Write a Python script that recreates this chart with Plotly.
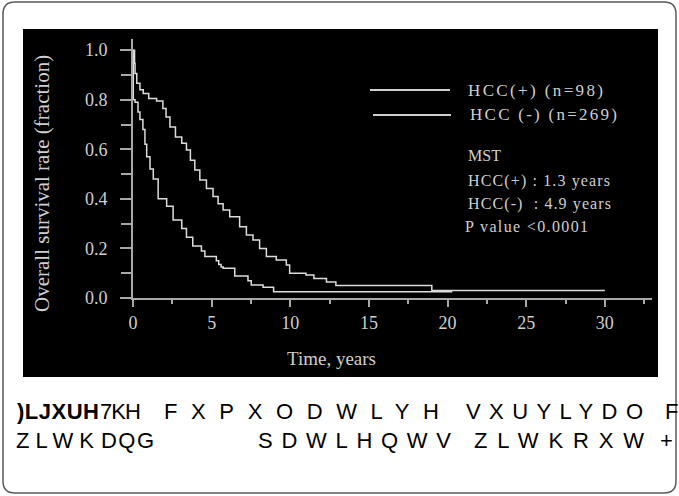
import json
import plotly.graph_objects as go

# ---------------- data ----------------
hcc_neg_t = [0.0, 0.1, 0.13, 0.24, 0.44, 0.65, 1.0, 1.5, 1.9, 2.1, 2.35, 2.7, 3.1, 3.4, 3.65, 3.93,
             4.25, 4.67, 5.09, 5.41, 5.73, 6.15, 6.78, 7.21, 7.63, 8.05, 8.48, 9.11, 9.75, 9.96,
             11.0, 11.5, 12.3, 12.9, 19.0, 30.0]
hcc_neg_s = [1.0, 0.946, 0.906, 0.866, 0.84, 0.825, 0.805, 0.795, 0.765, 0.73, 0.69, 0.65, 0.624,
             0.597, 0.556, 0.516, 0.476, 0.442, 0.41, 0.38, 0.355, 0.328, 0.287, 0.254, 0.234,
             0.2, 0.167, 0.153, 0.133, 0.1, 0.093, 0.079, 0.065, 0.05, 0.03, 0.03]

hcc_pos_t = [0.0, 0.02, 0.13, 0.32, 0.44, 0.63, 0.76, 0.87, 1.08, 1.29, 1.6, 2.14, 2.55, 3.1,
             3.4, 3.8, 4.35, 4.57, 5.3, 5.45, 5.6, 5.73, 6.47, 7.31, 7.52, 8.27, 8.94, 20.3]
hcc_pos_s = [1.0, 0.80, 0.79, 0.75, 0.72, 0.68, 0.62, 0.57, 0.52, 0.48, 0.40, 0.37, 0.315, 0.28,
             0.245, 0.21, 0.19, 0.167, 0.15, 0.135, 0.125, 0.12, 0.089, 0.07, 0.052, 0.043,
             0.025, 0.025]

x_tick_vals = [0, 5, 10, 15, 20, 25, 30]
y_tick_vals = [0.0, 0.2, 0.4, 0.6, 0.8, 1.0]

x_title = "Time, years"
y_title = "Overall survival rate (fraction)"
legend_labels = ["HCC(+) (n=98)", "HCC (-) (n=269)"]
mst_lines = ["MST", "HCC(+) : 1.3 years", "HCC(-)  : 4.9 years", "P value <0.0001"]
caption_line1 = [")LJXUH", "7KH", "FXPXODWLYH", "VXUYLYDO", "F"]
caption_line2 = ["ZLWK", "DQG", "SDWLHQWV", "ZLWKRXW", "+"]

# ---------------- layout helpers ----------------
W, H = 679, 496
L, R, T, B = 133, 27, 39, 198
PW, PH = W - L - R, H - T - B


def px(x):
    return (x - L) / PW


def py(y):
    return (H - B - y) / PH


GREY_AX = "#a8a8a8"
GREY_TX = "#cfcfcf"
CURVE = "#dcdcdc"
SERIF = "Liberation Serif, Times New Roman, serif"
SANS = "Liberation Sans, Arial, sans-serif"

fig = go.Figure()
fig.add_trace(go.Scatter(x=hcc_neg_t, y=hcc_neg_s, mode="lines", line_shape="hv",
                         line=dict(color=CURVE, width=1.5), name=legend_labels[1],
                         showlegend=False))
fig.add_trace(go.Scatter(x=hcc_pos_t, y=hcc_pos_s, mode="lines", line_shape="hv",
                         line=dict(color=CURVE, width=1.5), name=legend_labels[0],
                         showlegend=False))

shapes = []
# black panel
shapes.append(dict(type="rect", xref="paper", yref="paper", layer="below",
                   x0=px(23), x1=px(658), y0=py(377), y1=py(29),
                   fillcolor="black", line=dict(width=0)))


# rounded outer frame
def rounded(x0, y0, x1, y1, r):
    pts = [
        f"M {px(x0 + r)},{py(y0)}", f"L {px(x1 - r)},{py(y0)}",
        f"Q {px(x1)},{py(y0)} {px(x1)},{py(y0 + r)}", f"L {px(x1)},{py(y1 - r)}",
        f"Q {px(x1)},{py(y1)} {px(x1 - r)},{py(y1)}", f"L {px(x0 + r)},{py(y1)}",
        f"Q {px(x0)},{py(y1)} {px(x0)},{py(y1 - r)}", f"L {px(x0)},{py(y0 + r)}",
        f"Q {px(x0)},{py(y0)} {px(x0 + r)},{py(y0)}", "Z"]
    return " ".join(pts)


shapes.append(dict(type="path", xref="paper", yref="paper", layer="below",
                   path=rounded(3, 2, 676, 493, 12),
                   line=dict(color="#5a5a5a", width=1.5)))

# legend sample lines
shapes.append(dict(type="line", xref="paper", yref="paper", x0=px(370), x1=px(450),
                   y0=py(90), y1=py(90), line=dict(color=GREY_TX, width=2)))
shapes.append(dict(type="line", xref="paper", yref="paper", x0=px(373), x1=px(451),
                   y0=py(115), y1=py(115), line=dict(color=GREY_TX, width=2)))

annotations = []
targets = {}


def add_text(text, x_left, y_c, size, color, family, width=None, bold=False):
    annotations.append(dict(text=text, xref="paper", yref="paper", x=px(x_left), y=py(y_c),
                            xanchor="left", yanchor="middle", align="left", showarrow=False,
                            borderpad=0,
                            font=dict(size=size, color=color, family=family,
                                      weight="bold" if bold else "normal")))
    if width:
        targets[text] = width


# legend
add_text(legend_labels[0], 467, 90, 17, GREY_TX, SERIF, 135)
add_text(legend_labels[1], 469, 115, 17, GREY_TX, SERIF, 147)
# MST block
add_text(mst_lines[0], 467, 155, 16, GREY_TX, SERIF)
add_text(mst_lines[1], 467, 181, 16, GREY_TX, SERIF, 142)
add_text(mst_lines[2], 467, 204, 16, GREY_TX, SERIF, 143)
add_text(mst_lines[3], 464, 226, 16, GREY_TX, SERIF, 123)

# axis titles
annotations.append(dict(text=x_title, xref="paper", yref="paper", x=px(331), y=py(358),
                        xanchor="center", yanchor="middle", showarrow=False,
                        font=dict(size=19, color=GREY_TX, family=SERIF)))
annotations.append(dict(text=y_title, xref="paper", yref="paper", x=px(42), y=py(184),
                        xanchor="center", yanchor="middle", showarrow=False, textangle=-90,
                        font=dict(size=21, color=GREY_TX, family=SERIF)))

# caption (as shown in the reference)
cap1_pos = [(16, 82), (99, 41), (163, 275), (465, 177), (664, None)]
cap2_pos = [(15, 78), (100, 53), (257, 193), (473, 170), (659, None)]
for i, (w, (xl, wd)) in enumerate(zip(caption_line1, cap1_pos)):
    add_text(w, xl, 411, 22, "black", SANS, wd, bold=(i == 0))
for w, (xl, wd) in zip(caption_line2, cap2_pos):
    add_text(w, xl, 440, 22, "black", SANS, wd)

fig.update_layout(
    width=W, height=H,
    margin=dict(l=L, r=R, t=T, b=B, pad=0),
    paper_bgcolor="white", plot_bgcolor="black",
    showlegend=False,
    shapes=shapes, annotations=annotations,
    xaxis=dict(range=[0, 33], tickmode="array", tickvals=x_tick_vals,
               ticktext=[str(v) for v in x_tick_vals],
               showgrid=False, zeroline=False, showline=True, linecolor=GREY_AX, linewidth=2,
               ticks="outside", ticklen=7, tickwidth=1.5, tickcolor=GREY_AX,
               ticklabelstandoff=0,
               minor=dict(dtick=2.5, tick0=0, ticks="outside", ticklen=4, tickwidth=1.5,
                          tickcolor=GREY_AX),
               tickfont=dict(size=18, color=GREY_TX, family=SERIF)),
    yaxis=dict(range=[0, 1.045], tickmode="array", tickvals=y_tick_vals,
               ticktext=[f"{v:.1f}" for v in y_tick_vals],
               showgrid=False, zeroline=False, showline=True, linecolor=GREY_AX, linewidth=2,
               ticks="outside", ticklen=11, tickwidth=1.5, tickcolor=GREY_AX,
               ticklabelstandoff=9,
               minor=dict(dtick=0.1, tick0=0, ticks="outside", ticklen=10, tickwidth=1.5,
                          tickcolor=GREY_AX),
               tickfont=dict(size=18, color=GREY_TX, family=SERIF)),
)

post = """
document.body.style.margin = '0';
document.body.style.padding = '0';
document.body.style.overflow = 'hidden';
var gd = document.getElementById('{plot_id}');
var TL = %s;
function fitText(){
  gd.querySelectorAll('text.annotation-text').forEach(function(t){
    var k = t.textContent.replace(/\\u00a0/g, ' ');
    if (Object.prototype.hasOwnProperty.call(TL, k)) {
      t.setAttribute('textLength', TL[k]);
      t.setAttribute('lengthAdjust', 'spacing');
    }
  });
}
fitText();
gd.on('plotly_afterplot', fitText);
""" % json.dumps(targets)

fig.write_html("out.html", post_script=post, config={"displayModeBar": False})
